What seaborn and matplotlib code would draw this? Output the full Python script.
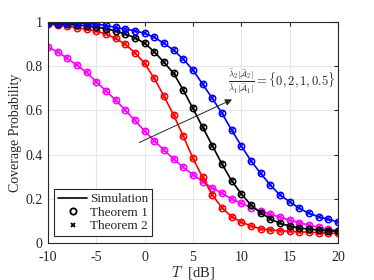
import matplotlib
matplotlib.use("Agg")
import matplotlib.pyplot as plt
import numpy as np
import pandas as pd
import seaborn as sns

T_dB = list(range(-10, 21))

ratio_0 = [0.887, 0.866, 0.836, 0.805, 0.772, 0.730, 0.689, 0.647, 0.602, 0.555, 0.507,
           0.463, 0.421, 0.380, 0.342, 0.310, 0.277, 0.250, 0.225, 0.199, 0.180,
           0.160, 0.145, 0.131, 0.116, 0.104, 0.092, 0.081, 0.071, 0.062, 0.056]
ratio_2 = [0.990, 0.986, 0.981, 0.975, 0.968, 0.960, 0.946, 0.926, 0.900, 0.861, 0.813,
           0.745, 0.665, 0.579, 0.484, 0.383, 0.297, 0.217, 0.160, 0.119, 0.095,
           0.077, 0.065, 0.059, 0.056, 0.053, 0.051, 0.049, 0.047, 0.045, 0.044]
ratio_1 = [0.995, 0.993, 0.990, 0.987, 0.983, 0.978, 0.970, 0.960, 0.946, 0.930, 0.904,
           0.866, 0.818, 0.768, 0.692, 0.609, 0.524, 0.441, 0.357, 0.282, 0.222,
           0.172, 0.137, 0.109, 0.089, 0.077, 0.068, 0.063, 0.059, 0.056, 0.053]
ratio_05 = [0.998, 0.997, 0.996, 0.995, 0.993, 0.991, 0.985, 0.976, 0.968, 0.961, 0.949,
            0.931, 0.904, 0.873, 0.832, 0.783, 0.719, 0.655, 0.587, 0.511, 0.439,
            0.372, 0.315, 0.262, 0.217, 0.187, 0.157, 0.134, 0.119, 0.107, 0.095]

series = {"0": ratio_0, "2": ratio_2, "1": ratio_1, "0.5": ratio_05}
colors = {"0": "#ff00ff", "2": "#ff0000", "1": "#000000", "0.5": "#0000ff"}

df = pd.DataFrame(
    [(t, v, k) for k, vals in series.items() for t, v in zip(T_dB, vals)],
    columns=["T", "Pc", "ratio"],
)

sns.set_style("whitegrid")
plt.rcParams["font.family"] = ["Liberation Serif", "DejaVu Serif"]
plt.rcParams["mathtext.fontset"] = "cm"
plt.rcParams["axes.unicode_minus"] = False

fig = plt.figure(figsize=(3.74, 2.8), dpi=100)
ax = fig.add_axes([0.128, 0.132, 0.776, 0.789])

for k in series:
    sub = df[df["ratio"] == k]
    sns.lineplot(x=sub["T"], y=sub["Pc"], color=colors[k], lw=1.2, ax=ax)
    sns.lineplot(x=sub["T"], y=sub["Pc"], color=colors[k], lw=0, marker="o",
                 markersize=4.6, markerfacecolor="none", markeredgecolor=colors[k],
                 markeredgewidth=1.1, ax=ax)
    sns.lineplot(x=sub["T"], y=sub["Pc"], color=colors[k], lw=0, marker="x",
                 markersize=3.5, markeredgecolor=colors[k], markeredgewidth=1.1, ax=ax)

ax.set_xlim(-10, 20)
ax.set_ylim(0, 1)
ax.set_xticks(np.arange(-10, 21, 5))
ax.set_yticks([0, 0.2, 0.4, 0.6, 0.8, 1])
ax.set_yticklabels(["0", "0.2", "0.4", "0.6", "0.8", "1"])
ax.tick_params(direction="in", length=3, labelsize=10, top=True, right=True,
               colors="#262626")
ax.tick_params(axis="x", pad=6)
ax.tick_params(axis="y", pad=4)
ax.grid(color="#e6e6e6", lw=0.8)
for s in ax.spines.values():
    s.set_color("#262626")
    s.set_linewidth(0.8)
ax.set_xlabel(r"$T\ $ [dB]", fontsize=10.5, labelpad=0)
ax.set_ylabel("Coverage Probability", fontsize=10, labelpad=2)

ax.annotate("", xy=(9.3, 0.655), xytext=(-0.8, 0.45),
            arrowprops=dict(arrowstyle="-|>", color="#262626", lw=0.7,
                            mutation_scale=10))
ax.text(8.6, 0.73,
        r"$\frac{\bar{\lambda}_2|\bar{\mathcal{A}}_2|}{\bar{\lambda}_1|\bar{\mathcal{A}}_1|}=\{0,2,1,0.5\}$",
        fontsize=9, va="center", ha="left")

handles = [
    plt.Line2D([], [], color="black", lw=1.2),
    plt.Line2D([], [], color="black", lw=0, marker="o", markerfacecolor="none",
               markersize=4.5, markeredgewidth=1.3),
    plt.Line2D([], [], color="black", lw=0, marker="x", markersize=3.5,
               markeredgewidth=1.3),
]
leg = ax.legend(handles, ["Simulation", "Theorem 1", "Theorem 2"], loc="lower left",
                fontsize=9.5, frameon=True, fancybox=False, framealpha=1,
                edgecolor="#262626", handlelength=2.2, handletextpad=0.2,
                borderpad=0.3, labelspacing=0.1, borderaxespad=0.5)
leg.get_frame().set_linewidth(0.8)

fig.savefig("out.png", dpi=100)
